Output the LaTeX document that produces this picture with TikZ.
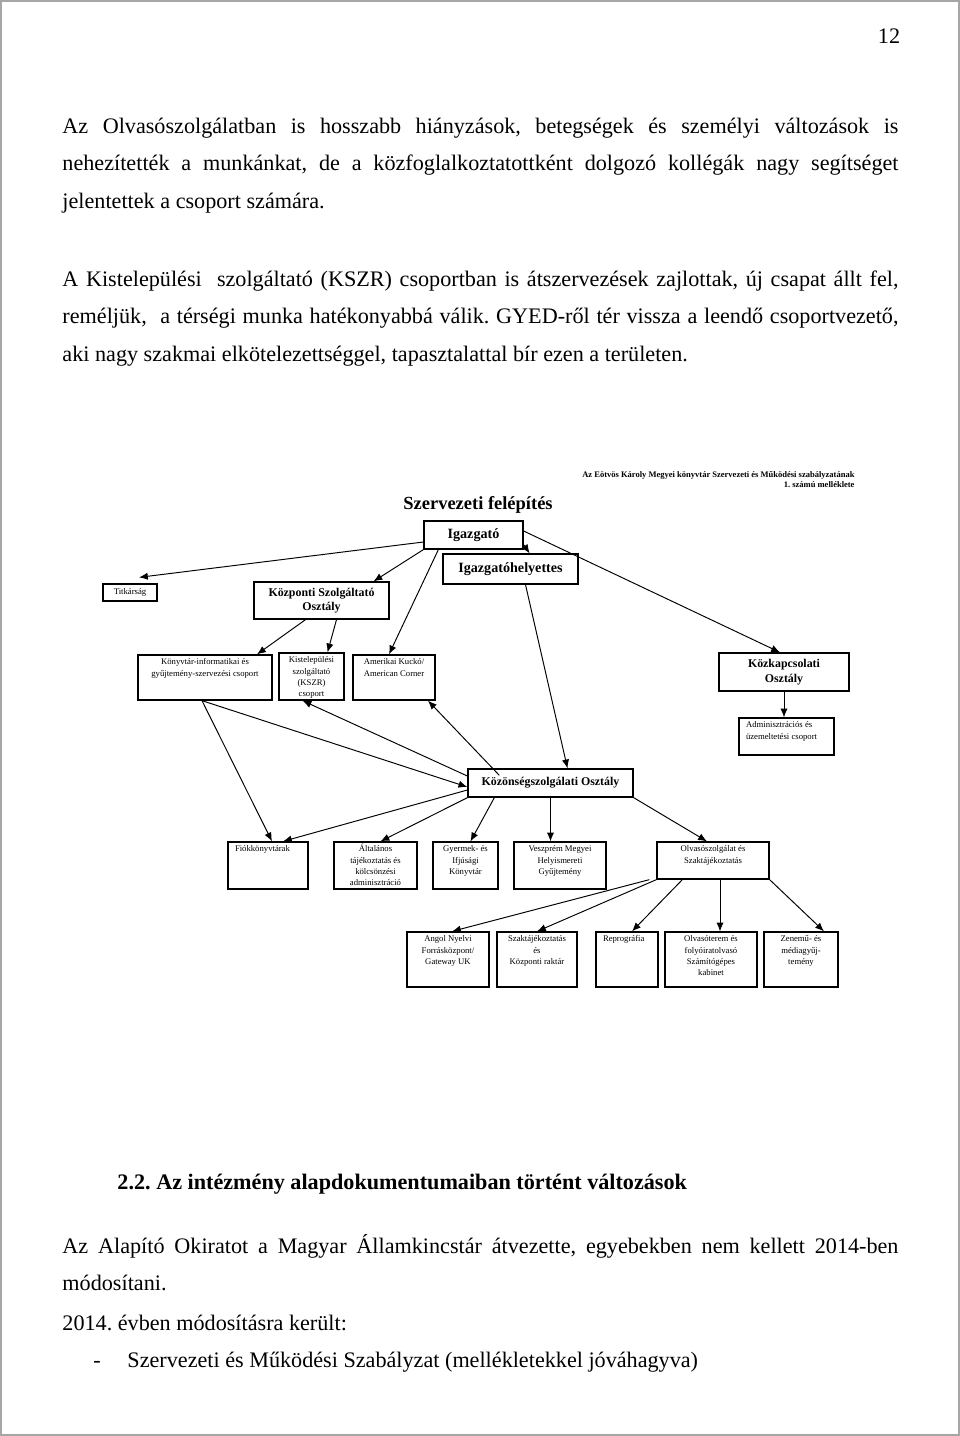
\documentclass[tikz,border=0pt]{standalone}
\usepackage{fontspec}
\setmainfont{Liberation Serif}
\usetikzlibrary{arrows.meta}
\frenchspacing
\newlength{\pxl}
\setlength{\pxl}{0.021875cm}
% text set at the top of a fixed box
\newcommand{\cellc}[3]{\parbox[c][#2\pxl][t]{#1\pxl}{\centering\rule{0pt}{6.2pt}#3\par}}
\newcommand{\celll}[3]{\parbox[c][#2\pxl][t]{#1\pxl}{\raggedright\leftskip=7\pxl\rule{0pt}{6.2pt}#3\par}}

\begin{document}
\begin{tikzpicture}[x=\pxl, y=-\pxl, line width=0.6pt]
\tikzstyle{box} = [draw, line width=0.8pt, inner sep=0pt]
\tikzstyle{sbox} = [box, font=\fontsize{5.4}{6.9}\selectfont]
\tikzstyle{bbox} = [box, align=center, font=\bfseries\fontsize{7.4}{9}\selectfont]
\tikzstyle{link} = [-{Latex[length=5.5pt,width=4.5pt]}]
\tikzstyle{para} = [anchor=base west, inner sep=0pt, text width=836\pxl, align=justify, font=\fontsize{13.8}{23.64}\selectfont]
\tikzstyle{line} = [anchor=base west, inner sep=0pt, font=\fontsize{13.8}{16}\selectfont]
\useasboundingbox (0,0) rectangle (960,1436);
\draw[gray!70, line width=1.2pt] (1,1) rectangle (959,1435);

% page text
\node[anchor=base, inner sep=0pt, font=\fontsize{13.8}{16}\selectfont] (page) at (889,43) {12};
\node[para] (P-1) at (62,133) {Az Olvasószolgálatban is hosszabb hiányzások, betegségek és személyi változások is\linebreak nehezítették a munkánkat, de a közfoglalkoztatottként dolgozó kollégák nagy segítséget\linebreak jelentettek a csoport számára.};
\node[para] (P-2) at (62,286) {A Kistelepülési\ \ szolgáltató (KSZR) csoportban is átszervezések zajlottak, új csapat állt fel,\linebreak reméljük,\ \ a térségi munka hatékonyabbá válik. GYED-ről tér vissza a leendő csoportvezető,\linebreak aki nagy szakmai elkötelezettséggel, tapasztalattal bír ezen a területen.};

% chart head
\node[anchor=north east, inner sep=0pt, align=right, font=\bfseries\fontsize{5.3}{6.4}\selectfont] (note) at (855,471) {Az Eötvös Károly Megyei könyvtár Szervezeti és Működési szabályzatának\\1. számú melléklete};
\node[inner sep=0pt, font=\bfseries\fontsize{11.5}{13}\selectfont] (title) at (478,505) {Szervezeti felépítés};

% boxes
\node[bbox, font=\bfseries\fontsize{8.8}{10}\selectfont, minimum width=99\pxl, minimum height=28\pxl] (Igaz) at (473.5,535) {Igazgató};
\node[bbox, font=\bfseries\fontsize{8.8}{10}\selectfont, minimum width=135\pxl, minimum height=30\pxl] (Helyettes) at (510.5,569) {Igazgatóhelyettes};
\node[sbox, minimum width=54\pxl, minimum height=17\pxl] (Titk) at (130,592.5) {Titkárság};
\node[bbox, minimum width=135\pxl, minimum height=37\pxl] (Kozp) at (321.5,600.5) {Központi Szolgáltató\\Osztály};
\node[sbox] (Konyv) at (205,677.5) {\cellc{134}{45}{Könyvtár-informatikai és\\gyűjtemény-szervezési csoport}};
\node[sbox] (Kist) at (311.5,676.5) {\cellc{65}{47}{Kistelepülési\\szolgáltató\\(KSZR)\\csoport}};
\node[sbox] (Amer) at (394,677.5) {\cellc{82}{45}{Amerikai Kuckó/\\American Corner}};
\node[bbox, minimum width=130\pxl, minimum height=38\pxl] (Kozk) at (784,672) {Közkapcsolati\\Osztály};
\node[sbox] (Admin) at (786.5,736.5) {\celll{95}{37}{Adminisztrációs és\\üzemeltetési csoport}};
\node[bbox, minimum width=165\pxl, minimum height=28\pxl] (Kozon) at (550.5,783) {Közönségszolgálati Osztály};
\node[sbox] (Fiok) at (268,865.5) {\celll{80}{47}{Fiókkönyvtárak}};
\node[sbox] (Altal) at (375.5,865.5) {\cellc{83}{47}{Általános\\tájékoztatás és\\kölcsönzési\\adminisztráció}};
\node[sbox] (Gyer) at (465.5,865.5) {\cellc{65}{47}{Gyermek- és\\Ifjúsági\\Könyvtár}};
\node[sbox] (Vesz) at (560,865.5) {\cellc{92}{47}{Veszprém Megyei\\Helyismereti\\Gyűjtemény}};
\node[sbox] (Olv) at (713,860.5) {\cellc{112}{37}{Olvasószolgálat és\\Szaktájékoztatás}};
\node[sbox] (Angol) at (448,959.5) {\cellc{82}{55}{Angol Nyelvi\\Forrásközpont/\\Gateway UK}};
\node[sbox] (Szak) at (537,959.5) {\cellc{80}{55}{Szaktájékoztatás\\és\\Központi raktár}};
\node[sbox] (Repro) at (627,959.5) {\celll{62}{55}{Reprográfia}};
\node[sbox] (Olvt) at (711,959.5) {\cellc{92}{55}{Olvasóterem és\\folyóiratolvasó\\Számítógépes\\kabinet}};
\node[sbox] (Zene) at (801,959.5) {\cellc{74}{55}{Zenemű- és\\médiagyűj-\\temény}};

% connectors
\draw[link] ([yshift=-7\pxl]Igaz.west) -- ([xshift=9\pxl,yshift=6\pxl]Titk.north);
\draw[link] (Igaz.south west) -- ([xshift=52\pxl]Kozp.north);
\draw[link] ([xshift=15\pxl]Igaz.south west) -- ([xshift=-5\pxl]Amer.north);
\draw[link] ([yshift=5\pxl]Igaz.south east) -- ([xshift=-49\pxl]Helyettes.north east);
\draw[link] ([yshift=4\pxl]Igaz.east) -- ([xshift=-4\pxl]Kozk.north);
\draw[link] ([xshift=15\pxl]Helyettes.south) -- ([xshift=17\pxl]Kozon.north);
\draw[link] ([xshift=-16\pxl]Kozp.south) -- ([xshift=52\pxl]Konyv.north);
\draw[link] ([xshift=15\pxl]Kozp.south) -- ([xshift=16\pxl]Kist.north);
\draw[link] (Kozk.south) -- (Kozk.south |- Admin.north);
\draw[link] ([xshift=-3\pxl]Konyv.south) -- ([yshift=-4\pxl]Kozon.west);
\draw[link] ([xshift=-3\pxl]Konyv.south) -- ([xshift=4\pxl]Fiok.north);
\draw[link] ([yshift=7\pxl]Kozon.west) -- ([xshift=-9\pxl]Kist.south);
\draw[link] ([xshift=32\pxl,yshift=-7\pxl]Kozon.north west) -- ([xshift=34\pxl]Amer.south);
\draw[link] ([yshift=-7\pxl]Kozon.west) -- ([xshift=15\pxl]Fiok.north);
\draw[link] (Kozon.south west) -- ([xshift=5\pxl]Altal.north);
\draw[link] ([xshift=27\pxl]Kozon.south west) -- ([xshift=5\pxl]Gyer.north);
\draw[link] (Kozon.south) -- (Kozon.south |- Vesz.north);
\draw[link] (Kozon.south east) -- ([xshift=-6\pxl]Olv.north);
\draw[link] ([xshift=-7\pxl]Olv.south west) -- ([xshift=4\pxl]Angol.north);
\draw[link] (Olv.south west) -- (Szak.north);
\draw[link] ([xshift=26\pxl]Olv.south west) -- ([xshift=5\pxl]Repro.north);
\draw[link] ([xshift=7\pxl]Olv.south) -- ([xshift=9\pxl]Olvt.north);
\draw[link] (Olv.south east) -- ([xshift=23\pxl]Zene.north);

% lower text
\node[line, font=\bfseries\fontsize{13.8}{16}\selectfont] (head) at (117,1189) {2.2. Az intézmény alapdokumentumaiban történt változások};
\node[para] (P-3) at (62,1253) {Az Alapító Okiratot a Magyar Államkincstár átvezette, egyebekben nem kellett 2014-ben\linebreak módosítani.};
\node[line] (line-1) at (62,1330) {2014. évben módosításra került:};
\node[line] (dash) at (93,1367) {-};
\node[line] (line-2) at (127,1367) {Szervezeti és Működési Szabályzat (mellékletekkel jóváhagyva)};
\end{tikzpicture}
\end{document}
